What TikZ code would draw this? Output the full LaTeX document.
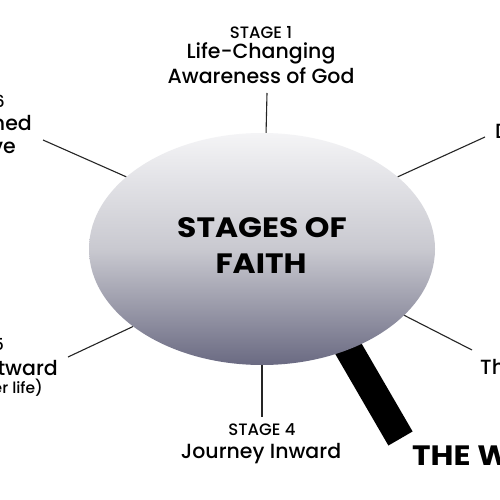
\documentclass[tikz,border=0pt]{standalone}
\usepackage{fontspec}
\setmainfont{Poppins}[UprightFont={* Medium},BoldFont={* Bold}]
\newfontfamily\widefont{Poppins}[FakeStretch=1.12]
\definecolor{BlobTop}{HTML}{F4F4F6}
\definecolor{BlobMid}{HTML}{C9C9D0}
\definecolor{BlobBot}{HTML}{6A6A82}
\definecolor{Spoke}{HTML}{252525}
\usetikzlibrary{shapes.geometric}

\begin{document}
\begin{tikzpicture}[x=1pt,y=-1pt,
  blob/.style={ellipse,minimum width=346pt,minimum height=232pt,inner sep=0pt,
    shading=axis,top color=BlobTop,bottom color=BlobBot,middle color=BlobMid},
  tag/.style={inner sep=0pt,font=\fontsize{16.5}{20}\selectfont},
  stagename/.style={inner sep=0pt,font=\fontsize{20.5}{25}\selectfont},
  aside/.style={inner sep=0pt,font=\fontsize{15.5}{18}\selectfont},
  title/.style={inner sep=0pt,font=\widefont\fontsize{28}{32}\selectfont\bfseries},
  spoke/.style={draw=Spoke,line width=1.1pt},
  wallbar/.style={draw=black,line width=28pt}
]
\useasboundingbox (0,0) rectangle (500,500);
\fill[white] (0,0) rectangle (500,500);
\clip (0,0) rectangle (500,500);

% the wall sits under the ellipse
\coordinate (wallfoot) at (323,305);
\coordinate (wallend) at (400.5,438.5);
\draw[wallbar] (wallfoot)--(wallend);

\node[blob] (faith) at (262,249) {};
\node[title,anchor=base] (titleA) at (262,237) {STAGES OF};
\node[title,anchor=base] (titleB) at (261,273) {FAITH};

% stage 1
\node[tag,anchor=base] (s1tag) at (261,39) {STAGE 1};
\node[stagename,anchor=base] (s1a) at (261,59) {Life-Changing};
\node[stagename,anchor=base] (s1b) at (261,84) {Awareness of God};
% stage 2
\node[stagename,anchor=base west] (s2a) at (495,138) {Discipleship};
% stage 3
\node[stagename,anchor=base west] (s3a) at (480,374) {The Productive Life};
% stage 4
\node[tag,anchor=base] (s4tag) at (262,435) {STAGE 4};
\node[stagename,anchor=base] (s4a) at (261,458) {Journey Inward};
% stage 5
\node[tag,anchor=base east] (s5tag) at (4,350) {STAGE 5};
\node[stagename,anchor=base east] (s5a) at (58,375) {Journey Outward};
\node[aside,anchor=base east] (s5b) at (43,393) {(a new inner life)};
% stage 6
\node[tag,anchor=base east] (s6tag) at (5,108) {STAGE 6};
\node[stagename,anchor=base east] (s6a) at (32,130) {Transformed};
\node[stagename,anchor=base east] (s6b) at (16,153) {by Love};

\node[title,anchor=base west] (wall) at (412,465) {THE WALL};

% spokes
\coordinate (c1) at (267,93);
\coordinate (c2) at (485,137);
\coordinate (c3) at (472,350);
\coordinate (c4) at (262,417);
\coordinate (c5) at (68,357);
\coordinate (c6) at (43,140);
\draw[spoke] (faith.88)--(c1);
\draw[spoke] (faith.28)--(c2);
\draw[spoke] (faith.335)--(c3);
\draw[spoke] (faith.south)--(c4);
\draw[spoke] (faith.211)--(c5);
\draw[spoke] (faith.152)--(c6);
\end{tikzpicture}
\end{document}
